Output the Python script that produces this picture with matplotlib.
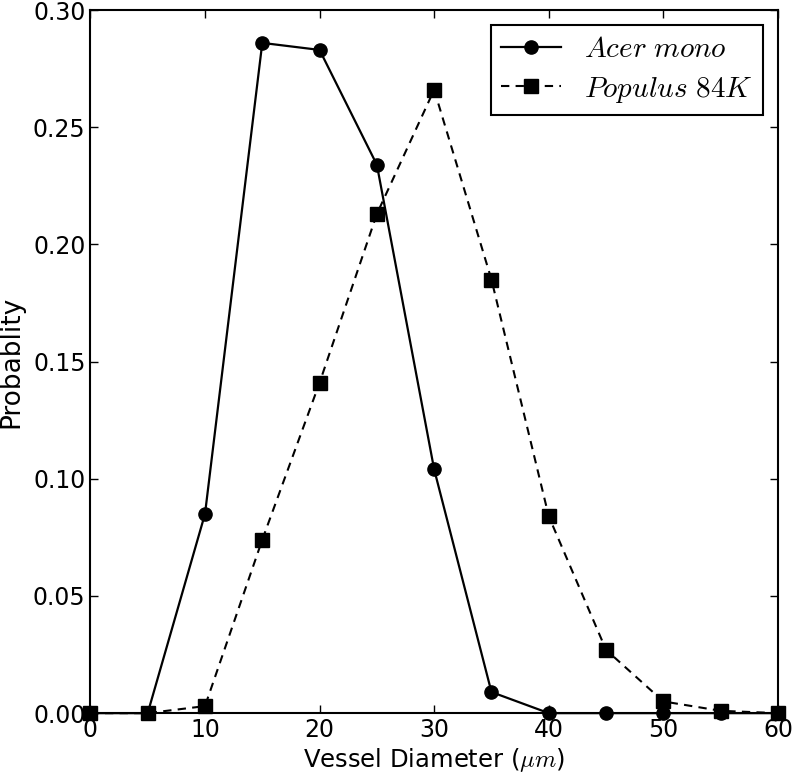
import numpy as np
import matplotlib
matplotlib.use('Agg')
import matplotlib.pyplot as plt

# diametre (um) et probabilites
diameters = [0, 5, 10, 15, 20, 25, 30, 35, 40, 45, 50, 55, 60]
acer_mono = [0.0, 0.0, 0.085, 0.286, 0.283, 0.234, 0.104, 0.009, 0.0, 0.0, 0.0, 0.0, 0.0]
populus_84k = [0.0, 0.0, 0.003, 0.074, 0.141, 0.213, 0.266, 0.185, 0.084, 0.027, 0.005, 0.001, 0.0]

plt.rcParams['font.family'] = ['DejaVu Sans']
plt.rcParams['mathtext.fontset'] = 'cm'
plt.rcParams['lines.scale_dashes'] = False
plt.rcParams['xtick.direction'] = 'in'
plt.rcParams['ytick.direction'] = 'in'
plt.rcParams['xtick.top'] = True
plt.rcParams['ytick.right'] = True
plt.rcParams['xtick.major.size'] = 6
plt.rcParams['ytick.major.size'] = 6

fig = plt.figure(figsize=(7.93, 7.76), dpi=100)
ax = fig.add_axes([0.114, 0.081, 0.867, 0.906])

ax.plot(diameters, acer_mono, 'k-', marker='o', markersize=9.5, linewidth=1.6,
        label=r'$Acer\ mono$', clip_on=False, zorder=3)
ax.plot(diameters, populus_84k, color='k', linestyle=(0, (6, 4.5)), marker='s',
        markersize=9.5, linewidth=1.5, label=r'$Populus\ 84K$', clip_on=False, zorder=3)

ax.set_xlim(0, 60)
ax.set_ylim(0, 0.30)
ax.set_xticks(np.arange(0, 61, 10))
ax.set_yticks(np.arange(0, 0.301, 0.05))
ax.set_yticklabels(['%.2f' % v for v in np.arange(0, 0.301, 0.05)])
ax.tick_params(labelsize=17, width=1)
for s in ax.spines.values():
    s.set_linewidth(1.5)

ax.set_xlabel(r'Vessel Diameter ($\mu m$)', fontsize=17.5, labelpad=3)
ax.set_ylabel('Probablity', fontsize=19, labelpad=6)
leg = ax.legend(loc='upper right', fontsize=21, frameon=True, fancybox=False,
                edgecolor='k', handlelength=2.05, numpoints=1, borderpad=0.35,
                labelspacing=0.4, framealpha=1)
leg.get_frame().set_linewidth(1.5)

fig.savefig('out.png', dpi=100)
